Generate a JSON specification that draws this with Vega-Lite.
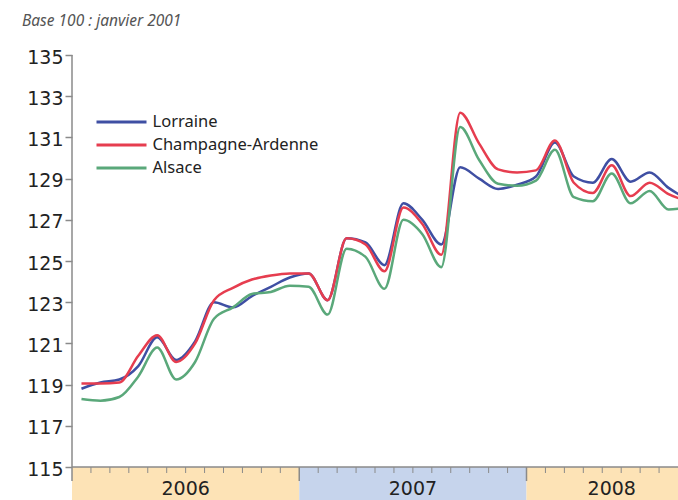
{
  "$schema": "https://vega.github.io/schema/vega-lite/v6.json",
  "width": 606,
  "height": 445,
  "autosize": {"type": "none"},
  "padding": {"left": 72, "top": 55, "right": 0, "bottom": 0},
  "config": {"view": {"stroke": null}, "font": "Noto Sans"},
  "title": {
    "text": "Base 100 : janvier 2001",
    "anchor": "start",
    "frame": "group",
    "dx": -50,
    "fontSize": 15.5,
    "fontStyle": "italic",
    "fontWeight": "normal",
    "color": "#555555",
    "offset": 19
  },
  "datasets": {
    "series": [
      {"m": 1, "Lorraine": 118.8, "Champagne-Ardenne": 119.05, "Alsace": 118.3},
      {"m": 2, "Lorraine": 119.1, "Champagne-Ardenne": 119.05, "Alsace": 118.22},
      {"m": 3, "Lorraine": 119.25, "Champagne-Ardenne": 119.1, "Alsace": 118.4},
      {"m": 4, "Lorraine": 119.9, "Champagne-Ardenne": 120.4, "Alsace": 119.4},
      {"m": 5, "Lorraine": 121.3, "Champagne-Ardenne": 121.4, "Alsace": 120.8},
      {"m": 6, "Lorraine": 120.2, "Champagne-Ardenne": 120.1, "Alsace": 119.25},
      {"m": 7, "Lorraine": 121.1, "Champagne-Ardenne": 121.0, "Alsace": 120.1},
      {"m": 8, "Lorraine": 123.0, "Champagne-Ardenne": 123.1, "Alsace": 122.2},
      {"m": 9, "Lorraine": 122.75, "Champagne-Ardenne": 123.7, "Alsace": 122.75},
      {"m": 10, "Lorraine": 123.3, "Champagne-Ardenne": 124.1, "Alsace": 123.4},
      {"m": 11, "Lorraine": 123.75, "Champagne-Ardenne": 124.3, "Alsace": 123.5},
      {"m": 12, "Lorraine": 124.2, "Champagne-Ardenne": 124.4, "Alsace": 123.8},
      {"m": 13, "Lorraine": 124.4, "Champagne-Ardenne": 124.4, "Alsace": 123.75},
      {"m": 14, "Lorraine": 123.1, "Champagne-Ardenne": 123.1, "Alsace": 122.4},
      {"m": 15, "Lorraine": 126.1, "Champagne-Ardenne": 126.1, "Alsace": 125.6},
      {"m": 16, "Lorraine": 125.9, "Champagne-Ardenne": 125.8, "Alsace": 125.2},
      {"m": 17, "Lorraine": 124.8, "Champagne-Ardenne": 124.5, "Alsace": 123.65},
      {"m": 18, "Lorraine": 127.8, "Champagne-Ardenne": 127.6, "Alsace": 127.0},
      {"m": 19, "Lorraine": 127.0, "Champagne-Ardenne": 126.8, "Alsace": 126.3},
      {"m": 20, "Lorraine": 125.8, "Champagne-Ardenne": 125.3, "Alsace": 124.7},
      {"m": 21, "Lorraine": 129.55, "Champagne-Ardenne": 132.2, "Alsace": 131.5},
      {"m": 22, "Lorraine": 129.0, "Champagne-Ardenne": 130.7, "Alsace": 129.9},
      {"m": 23, "Lorraine": 128.5, "Champagne-Ardenne": 129.45, "Alsace": 128.75},
      {"m": 24, "Lorraine": 128.7, "Champagne-Ardenne": 129.3, "Alsace": 128.65},
      {"m": 25, "Lorraine": 129.1, "Champagne-Ardenne": 129.4, "Alsace": 128.9},
      {"m": 26, "Lorraine": 130.75, "Champagne-Ardenne": 130.85, "Alsace": 130.4},
      {"m": 27, "Lorraine": 129.1, "Champagne-Ardenne": 128.8, "Alsace": 128.1},
      {"m": 28, "Lorraine": 128.8, "Champagne-Ardenne": 128.3, "Alsace": 127.9},
      {"m": 29, "Lorraine": 129.95, "Champagne-Ardenne": 129.65, "Alsace": 129.25},
      {"m": 30, "Lorraine": 128.85, "Champagne-Ardenne": 128.15, "Alsace": 127.8},
      {"m": 31, "Lorraine": 129.3, "Champagne-Ardenne": 128.8, "Alsace": 128.4},
      {"m": 32, "Lorraine": 128.55, "Champagne-Ardenne": 128.25, "Alsace": 127.5},
      {"m": 33, "Lorraine": 128.0, "Champagne-Ardenne": 127.9, "Alsace": 127.6}
    ],
    "years": [
      {"year": "2006", "start": 0.5, "end": 12.5},
      {"year": "2007", "start": 12.5, "end": 24.5},
      {"year": "2008", "start": 24.5, "end": 33.5}
    ],
    "minor": [
      {"b": 1.5}, {"b": 2.5}, {"b": 3.5}, {"b": 4.5}, {"b": 5.5}, {"b": 6.5}, {"b": 7.5}, {"b": 8.5}, {"b": 9.5}, {"b": 10.5}, {"b": 11.5},
      {"b": 13.5}, {"b": 14.5}, {"b": 15.5}, {"b": 16.5}, {"b": 17.5}, {"b": 18.5}, {"b": 19.5}, {"b": 20.5}, {"b": 21.5}, {"b": 22.5}, {"b": 23.5},
      {"b": 25.5}, {"b": 26.5}, {"b": 27.5}, {"b": 28.5}, {"b": 29.5}, {"b": 30.5}, {"b": 31.5}
    ],
    "major": [{"b": 0.5}, {"b": 12.5}, {"b": 24.5}],
    "one": [{}]
  },
  "layer": [
    {
      "data": {"name": "years"},
      "mark": {"type": "rect", "clip": true},
      "encoding": {
        "x": {"field": "start", "type": "quantitative", "scale": {"domain": [0.5, 32.5], "nice": false, "zero": false}, "axis": null},
        "x2": {"field": "end"},
        "y": {
          "datum": 115,
          "type": "quantitative",
          "scale": {"domain": [113.4, 135], "nice": false, "zero": false},
          "axis": {
            "values": [115, 117, 119, 121, 123, 125, 127, 129, 131, 133, 135],
            "domain": false,
            "grid": false,
            "title": null,
            "tickColor": "#8a8a8a",
            "tickSize": 7,
            "tickWidth": 1.5,
            "labelFont": "DejaVu Sans",
            "labelFontSize": 19,
            "labelColor": "#222222",
            "labelPadding": 2,
            "labelOffset": 2
          }
        },
        "y2": {"datum": 113.4},
        "fill": {"field": "year", "type": "nominal", "scale": {"domain": ["2006", "2007", "2008"], "range": ["#fde3b6", "#c6d4ec", "#fde3b6"]}, "legend": null}
      }
    },
    {
      "data": {"name": "years"},
      "transform": [{"calculate": "(datum.start + datum.end) / 2", "as": "mid"}],
      "mark": {"type": "text", "font": "DejaVu Sans", "fontSize": 19, "color": "#222222", "baseline": "middle", "align": "center"},
      "encoding": {
        "x": {"field": "mid", "type": "quantitative"},
        "y": {"datum": 113.95, "type": "quantitative"},
        "text": {"field": "year"}
      }
    },
    {
      "data": {"name": "one"},
      "mark": {"type": "rule", "color": "#8a8a8a", "strokeWidth": 1.5},
      "encoding": {"y": {"datum": 115, "type": "quantitative"}}
    },
    {
      "data": {"name": "minor"},
      "mark": {"type": "rule", "color": "#8a8a8a", "strokeWidth": 1},
      "encoding": {
        "x": {"field": "b", "type": "quantitative"},
        "y": {"datum": 115, "type": "quantitative"},
        "y2": {"datum": 114.71}
      }
    },
    {
      "data": {"name": "major"},
      "mark": {"type": "rule", "color": "#8a8a8a", "strokeWidth": 1.5},
      "encoding": {
        "x": {"field": "b", "type": "quantitative"},
        "y": {"datum": 115, "type": "quantitative"},
        "y2": {"datum": 114.32}
      }
    },
    {
      "data": {"name": "one"},
      "mark": {"type": "rule", "color": "#8a8a8a", "strokeWidth": 1.5},
      "encoding": {
        "x": {"datum": 0.5, "type": "quantitative"},
        "y": {"datum": 135, "type": "quantitative"},
        "y2": {"datum": 115}
      }
    },
    {
      "data": {"name": "series"},
      "transform": [{"fold": ["Lorraine", "Champagne-Ardenne", "Alsace"], "as": ["region", "value"]}],
      "mark": {"type": "line", "interpolate": "monotone", "strokeWidth": 2.5, "clip": true},
      "encoding": {
        "x": {"field": "m", "type": "quantitative"},
        "y": {"field": "value", "type": "quantitative", "title": null},
        "color": {
          "field": "region",
          "type": "nominal",
          "scale": {"domain": ["Lorraine", "Champagne-Ardenne", "Alsace"], "range": ["#3f4fa3", "#e63d4f", "#5aa87a"]},
          "legend": {
            "orient": "none",
            "legendX": 35.5,
            "legendY": 53,
            "title": null,
            "symbolType": "M-2,0L2,0",
            "symbolSize": 625,
            "symbolStrokeWidth": 3,
            "labelFontSize": 16.5,
            "labelColor": "#222222",
            "labelOffset": 17,
            "labelLimit": 0,
            "rowPadding": -0.8
          }
        }
      }
    }
  ]
}
